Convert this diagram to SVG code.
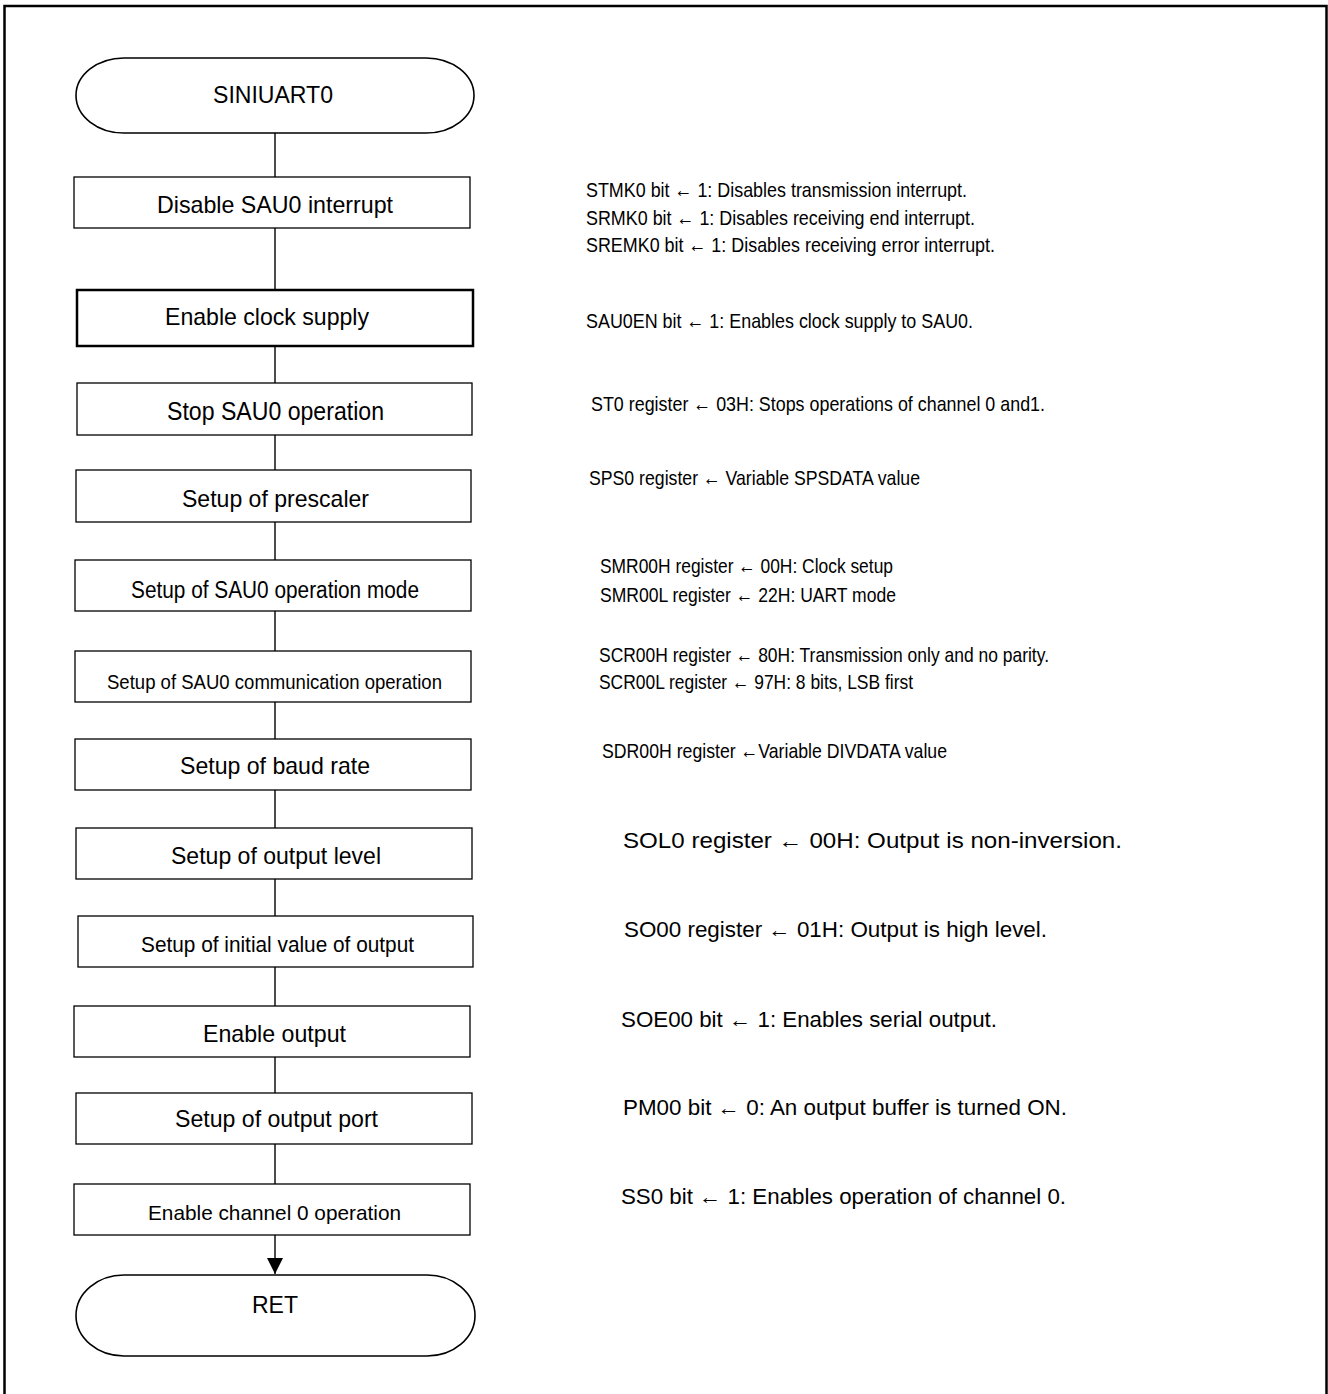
<svg xmlns="http://www.w3.org/2000/svg" width="1328" height="1394" viewBox="0 0 1328 1394">
<defs>
<style>
.t{font-family:"Liberation Sans",Arial,sans-serif;fill:#000}
.box{fill:#fff;stroke:#000;stroke-width:1.3}
.bold{fill:#fff;stroke:#000;stroke-width:2.5}
.term{fill:#fff;stroke:#000;stroke-width:1.6}
.ln{stroke:#000;stroke-width:1.4;fill:none}
.frame{stroke:#000;stroke-width:2.5;fill:none}
</style>
<marker id="ah" markerWidth="16" markerHeight="16" refX="16" refY="8" orient="auto" markerUnits="userSpaceOnUse" viewBox="0 0 16 16">
<path d="M0,0 L16,8 L0,16 Z" fill="#000"/>
</marker>
</defs>
<rect width="1328" height="1394" fill="#fff"/>
<path class="frame" d="M4.5,1394 L4.5,6 L1326.5,6 L1326.5,1394"/>

<g id="connectors">
<line class="ln" x1="275" y1="133" x2="275" y2="177"/>
<line class="ln" x1="275" y1="228" x2="275" y2="290"/>
<line class="ln" x1="275" y1="346" x2="275" y2="383"/>
<line class="ln" x1="275" y1="435" x2="275" y2="470"/>
<line class="ln" x1="275" y1="522" x2="275" y2="560"/>
<line class="ln" x1="275" y1="611" x2="275" y2="651"/>
<line class="ln" x1="275" y1="702" x2="275" y2="739"/>
<line class="ln" x1="275" y1="790" x2="275" y2="828"/>
<line class="ln" x1="275" y1="879" x2="275" y2="916"/>
<line class="ln" x1="275" y1="967" x2="275" y2="1006"/>
<line class="ln" x1="275" y1="1057" x2="275" y2="1093"/>
<line class="ln" x1="275" y1="1144" x2="275" y2="1184"/>
<line class="ln" x1="275" y1="1235" x2="275" y2="1274" marker-end="url(#ah)"/>
</g>

<g id="start">
<rect class="term" x="76" y="58" width="398" height="75" rx="48" ry="37.5"/>
<text class="t" x="213" y="103" font-size="24" textLength="120" lengthAdjust="spacingAndGlyphs">SINIUART0</text>
</g>

<g id="n1">
<rect class="box" x="74" y="177" width="396" height="51"/>
<text class="t" x="157" y="213" font-size="24" textLength="236" lengthAdjust="spacingAndGlyphs">Disable SAU0 interrupt</text>
</g>
<g id="n2">
<rect class="bold" x="77" y="290" width="396" height="56"/>
<text class="t" x="165" y="325" font-size="24" textLength="204" lengthAdjust="spacingAndGlyphs">Enable clock supply</text>
</g>
<g id="n3">
<rect class="box" x="77" y="383" width="395" height="52"/>
<text class="t" x="167" y="420" font-size="25" textLength="217" lengthAdjust="spacingAndGlyphs">Stop SAU0 operation</text>
</g>
<g id="n4">
<rect class="box" x="76" y="470" width="395" height="52"/>
<text class="t" x="182" y="507" font-size="24" textLength="187" lengthAdjust="spacingAndGlyphs">Setup of prescaler</text>
</g>
<g id="n5">
<rect class="box" x="75" y="560" width="396" height="51"/>
<text class="t" x="131" y="598" font-size="23" textLength="288" lengthAdjust="spacingAndGlyphs">Setup of SAU0 operation mode</text>
</g>
<g id="n6">
<rect class="box" x="75" y="651" width="396" height="51"/>
<text class="t" x="107" y="689" font-size="20.5" textLength="335" lengthAdjust="spacingAndGlyphs">Setup of SAU0 communication operation</text>
</g>
<g id="n7">
<rect class="box" x="75" y="739" width="396" height="51"/>
<text class="t" x="180" y="774" font-size="24" textLength="190" lengthAdjust="spacingAndGlyphs">Setup of baud rate</text>
</g>
<g id="n8">
<rect class="box" x="76" y="828" width="396" height="51"/>
<text class="t" x="171" y="864" font-size="24" textLength="210" lengthAdjust="spacingAndGlyphs">Setup of output level</text>
</g>
<g id="n9">
<rect class="box" x="78" y="916" width="395" height="51"/>
<text class="t" x="141" y="952" font-size="22" textLength="273" lengthAdjust="spacingAndGlyphs">Setup of initial value of output</text>
</g>
<g id="n10">
<rect class="box" x="74" y="1006" width="396" height="51"/>
<text class="t" x="203" y="1042" font-size="24" textLength="143" lengthAdjust="spacingAndGlyphs">Enable output</text>
</g>
<g id="n11">
<rect class="box" x="76" y="1093" width="396" height="51"/>
<text class="t" x="175" y="1127" font-size="24" textLength="203" lengthAdjust="spacingAndGlyphs">Setup of output port</text>
</g>
<g id="n12">
<rect class="box" x="74" y="1184" width="396" height="51"/>
<text class="t" x="148" y="1220" font-size="21" textLength="253" lengthAdjust="spacingAndGlyphs">Enable channel 0 operation</text>
</g>

<g id="end">
<rect class="term" x="76" y="1275" width="399" height="81" rx="48" ry="40.5"/>
<text class="t" x="252" y="1313" font-size="24" textLength="46" lengthAdjust="spacingAndGlyphs">RET</text>
</g>

<g id="notes">
<text class="t" x="586" y="197" font-size="21" textLength="381" lengthAdjust="spacingAndGlyphs">STMK0 bit ← 1: Disables transmission interrupt.</text>
<text class="t" x="586" y="225" font-size="21" textLength="389" lengthAdjust="spacingAndGlyphs">SRMK0 bit ← 1: Disables receiving end interrupt.</text>
<text class="t" x="586" y="252" font-size="21" textLength="409" lengthAdjust="spacingAndGlyphs">SREMK0 bit ← 1: Disables receiving error interrupt.</text>
<text class="t" x="586" y="328" font-size="21" textLength="387" lengthAdjust="spacingAndGlyphs">SAU0EN bit ← 1: Enables clock supply to SAU0.</text>
<text class="t" x="591" y="411" font-size="21" textLength="454" lengthAdjust="spacingAndGlyphs">ST0 register ← 03H: Stops operations of channel 0 and1.</text>
<text class="t" x="589" y="485" font-size="21" textLength="331" lengthAdjust="spacingAndGlyphs">SPS0 register ← Variable SPSDATA value</text>
<text class="t" x="600" y="573" font-size="21" textLength="293" lengthAdjust="spacingAndGlyphs">SMR00H register ← 00H: Clock setup</text>
<text class="t" x="600" y="602" font-size="21" textLength="296" lengthAdjust="spacingAndGlyphs">SMR00L register ← 22H: UART mode</text>
<text class="t" x="599" y="662" font-size="21" textLength="450" lengthAdjust="spacingAndGlyphs">SCR00H register ← 80H: Transmission only and no parity.</text>
<text class="t" x="599" y="689" font-size="21" textLength="314" lengthAdjust="spacingAndGlyphs">SCR00L register ← 97H: 8 bits, LSB first</text>
<text class="t" x="602" y="758" font-size="21" textLength="345" lengthAdjust="spacingAndGlyphs">SDR00H register ←Variable DIVDATA value</text>
<text class="t" x="623" y="848" font-size="22" textLength="499" lengthAdjust="spacingAndGlyphs">SOL0 register ← 00H: Output is non-inversion.</text>
<text class="t" x="624" y="937" font-size="22" textLength="423" lengthAdjust="spacingAndGlyphs">SO00 register ← 01H: Output is high level.</text>
<text class="t" x="621" y="1027" font-size="22" textLength="376" lengthAdjust="spacingAndGlyphs">SOE00 bit ← 1: Enables serial output.</text>
<text class="t" x="623" y="1115" font-size="22" textLength="444" lengthAdjust="spacingAndGlyphs">PM00 bit ← 0: An output buffer is turned ON.</text>
<text class="t" x="621" y="1204" font-size="22" textLength="445" lengthAdjust="spacingAndGlyphs">SS0 bit ← 1: Enables operation of channel 0.</text>
</g>
</svg>
